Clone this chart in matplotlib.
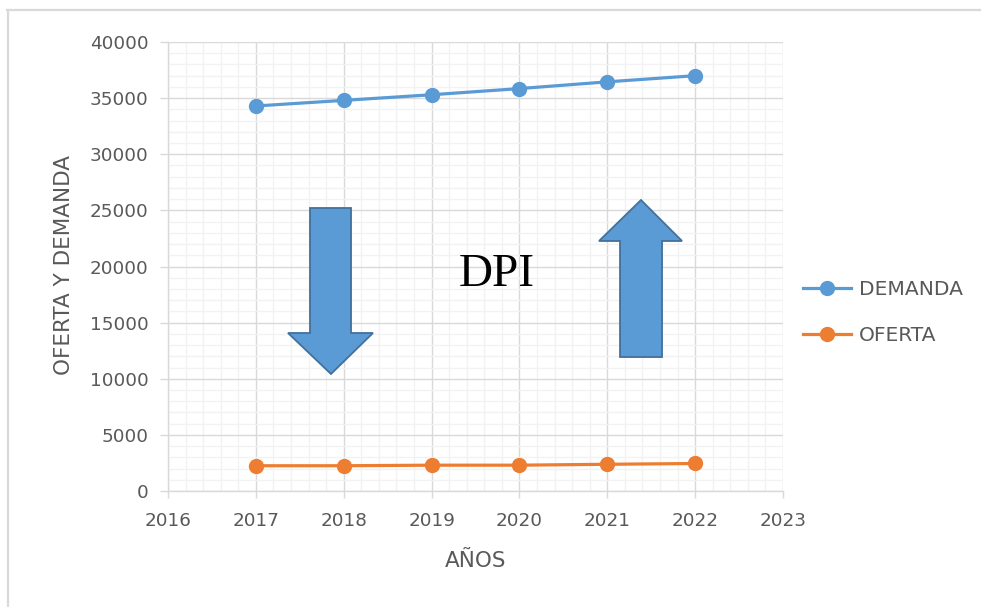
import matplotlib
matplotlib.use("Agg")
import matplotlib.pyplot as plt
from matplotlib.patches import Polygon
from matplotlib.lines import Line2D
from matplotlib.ticker import MultipleLocator

years = [2017, 2018, 2019, 2020, 2021, 2022]
demanda = [34300, 34800, 35300, 35850, 36450, 37000]
oferta = [2250, 2250, 2300, 2300, 2380, 2450]
series_labels = ["DEMANDA", "OFERTA"]
x_label = "AÑOS"
y_label = "OFERTA Y DEMANDA"
center_text = "DPI"

BLUE = "#5B9BD5"
ORANGE = "#ED7D31"
GRID_MAJ = "#d9d9d9"
GRID_MIN = "#f2f2f2"
TXT = "#595959"
FS_TICK = 13.2
FS_TITLE = 15.5
FS_LEG = 14.6

plt.rcParams["font.family"] = ["DejaVu Sans"]

fig = plt.figure(figsize=(9.81, 6.07), dpi=100)
W, H = 981, 607
ax = fig.add_axes([168 / W, 1 - 491 / H, (783 - 168) / W, (491 - 42) / H])

ax.plot(years, demanda, color=BLUE, lw=2.3, marker="o", ms=10, label=series_labels[0], zorder=5)
ax.plot(years, oferta, color=ORANGE, lw=2.3, marker="o", ms=10, label=series_labels[1], zorder=5)

ax.set_xlim(2016, 2023)
ax.set_ylim(0, 40000)
ax.xaxis.set_major_locator(MultipleLocator(1))
ax.xaxis.set_minor_locator(MultipleLocator(0.2))
ax.yaxis.set_major_locator(MultipleLocator(5000))
ax.yaxis.set_minor_locator(MultipleLocator(1000))
ax.grid(which="major", color=GRID_MAJ, lw=1.0, zorder=0)
ax.grid(which="minor", color=GRID_MIN, lw=1.0, zorder=0)
ax.set_axisbelow(True)

for s in ["top", "right"]:
    ax.spines[s].set_visible(False)
for s in ["left", "bottom"]:
    ax.spines[s].set_color(GRID_MAJ)
    ax.spines[s].set_linewidth(1.0)

ax.tick_params(axis="y", which="major", length=6, width=1, color=GRID_MAJ,
               labelsize=FS_TICK, labelcolor=TXT, pad=8)
ax.tick_params(axis="x", which="major", length=5, width=1, color=GRID_MAJ,
               labelsize=FS_TICK, labelcolor=TXT, pad=10)
ax.tick_params(which="minor", length=0)

ax.set_xlabel(x_label, fontsize=FS_TITLE, color=TXT)
ax.xaxis.set_label_coords(0.5, -0.133)
ax.set_ylabel(y_label, fontsize=FS_TITLE, color=TXT)
ax.yaxis.set_label_coords(-0.153, 0.503)

# Arrow shapes (axes fraction)
down_arrow = [(0.2309, 0.6303), (0.2976, 0.6303), (0.2976, 0.3519), (0.3333, 0.3519),
              (0.2650, 0.2606), (0.1951, 0.3519), (0.2309, 0.3519)]
up_arrow = [(0.7350, 0.2984), (0.8033, 0.2984), (0.8033, 0.5568), (0.8358, 0.5568),
            (0.7691, 0.6481), (0.7008, 0.5568), (0.7350, 0.5568)]
for pts in (down_arrow, up_arrow):
    ax.add_patch(Polygon(pts, closed=True, transform=ax.transAxes, facecolor=BLUE,
                         edgecolor="#41719C", lw=1.3, zorder=6))

ax.text(0.535, 0.4566, center_text, transform=ax.transAxes, ha="center", va="baseline",
        fontsize=34, family="Liberation Serif", color="black", zorder=7)

leg = ax.legend(loc="center left", bbox_to_anchor=(803 / W, 1 - 312.5 / H),
                bbox_transform=fig.transFigure, frameon=False, fontsize=FS_LEG,
                handlelength=2.35, handletextpad=0.4, labelspacing=1.3,
                borderpad=0, borderaxespad=0)
for t in leg.get_texts():
    t.set_color(TXT)

# chart border
fig.add_artist(Line2D([7 / W, 1.0], [1 - 10 / H, 1 - 10 / H], color=GRID_MAJ, lw=1.6,
                      transform=fig.transFigure))
fig.add_artist(Line2D([8 / W, 8 / W], [1 - 10 / H, 0.0], color=GRID_MAJ, lw=1.6,
                      transform=fig.transFigure))

fig.savefig("out.png", dpi=100)
